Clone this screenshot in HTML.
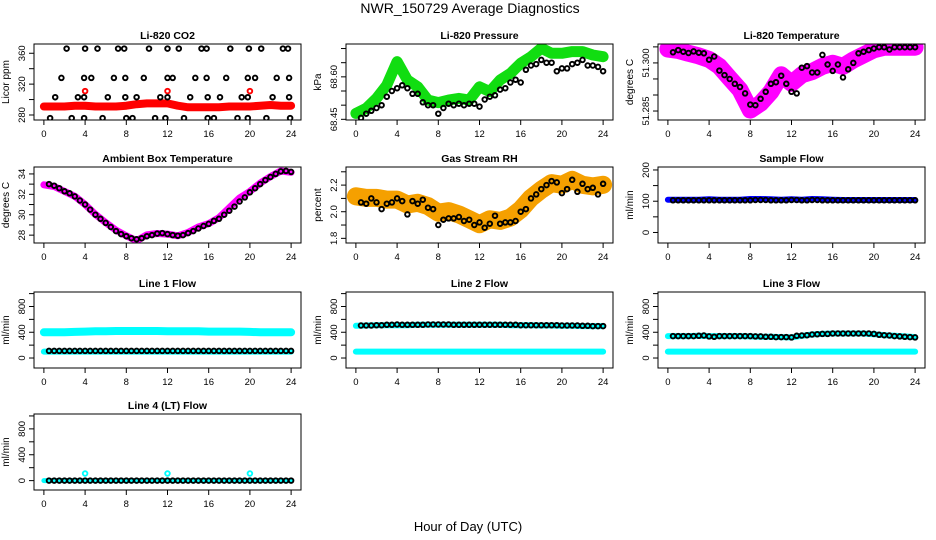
<!DOCTYPE html>
<html><head><meta charset="utf-8"><style>
body{margin:0;background:#fff;}
svg{display:block;font-family:"Liberation Sans",sans-serif;}
</style></head><body>
<svg id="fig" width="936" height="540" viewBox="0 0 936 540">
<rect width="936" height="540" fill="#fff"/>
<text x="470" y="13" text-anchor="middle" font-size="14">NWR_150729  Average Diagnostics</text>
<text x="468" y="531" text-anchor="middle" font-size="13">Hour of Day (UTC)</text>
</svg>
<script>
const bandHours = [0,1,2,3,4,5,6,7,8,9,10,11,12,13,14,15,16,17,18,19,20,21,22,23,24];
const ptHours = [0.5,1,1.5,2,2.5,3,3.5,4,4.5,5,5.5,6,6.5,7,7.5,8,8.5,9,9.5,10,10.5,11,11.5,12,12.5,13,13.5,14,14.5,15,15.5,16,16.5,17,17.5,18,18.5,19,19.5,20,20.5,21,21.5,22,22.5,23,23.5,24];
const xTicks = [0,4,8,12,16,20,24];

const co2Band = [291,291,291,292,292,291,291,291,292,294,295,295,295,292,290,290,290,290,291,291,291,292,293,292,292];
const co2RedOutX = [4,12,20];
const co2RedOutY = [311,311,311];
const co2BlackX = [2.2,4.0,5.2,7.2,7.8,10.2,12.0,13.1,15.3,15.8,18.1,19.9,21.1,23.2,23.7,
 1.7,3.9,4.6,6.8,7.9,9.7,12.0,12.5,14.7,15.8,17.7,19.8,20.5,22.6,23.8,
 1.1,3.3,3.9,6.2,7.9,9.0,11.3,12.0,14.2,15.9,17.1,19.2,19.8,22.2,23.8,
 0.6,2.7,3.9,5.7,8.0,8.6,10.8,11.8,13.6,15.9,16.5,18.8,19.8,21.6,23.9];
const co2BlackY = [366,366,366,366,366,366,366,366,366,366,366,366,366,366,366,
 328,328,328,328,328,328,328,328,328,328,328,328,328,328,328,
 303,303,303,303,303,303,303,303,303,303,303,303,303,303,303,
 276,276,276,276,276,276,276,276,276,276,276,276,276,276,276];
const presBand = [68.471,68.489,68.524,68.571,68.654,68.589,68.565,68.518,68.509,68.518,68.524,68.518,68.565,68.548,68.589,68.612,68.648,68.671,68.701,68.683,68.683,68.689,68.689,68.677,68.671];
const presBlack = [68.455,68.47,68.48,68.49,68.50,68.53,68.55,68.56,68.57,68.56,68.54,68.54,68.51,68.50,68.50,68.47,68.49,68.505,68.50,68.505,68.50,68.505,68.505,68.495,68.52,68.53,68.535,68.555,68.56,68.58,68.59,68.58,68.625,68.64,68.645,68.66,68.65,68.65,68.62,68.63,68.63,68.645,68.65,68.66,68.64,68.64,68.635,68.62];
const tempBand = [51.3043,51.3039,51.3030,51.3022,51.3011,51.2989,51.2952,51.2916,51.2853,51.2874,51.2910,51.2963,51.2936,51.2963,51.2973,51.2989,51.2999,51.2989,51.3009,51.3025,51.3041,51.3049,51.3049,51.3049,51.3049];
const tempBlack = [51.3033,51.3040,51.3035,51.3031,51.3036,51.3032,51.3030,51.3010,51.3020,51.2976,51.2962,51.2950,51.2935,51.2925,51.2905,51.2870,51.2868,51.2888,51.2910,51.2935,51.2940,51.2960,51.2935,51.2910,51.2905,51.2985,51.2990,51.2970,51.2970,51.3025,51.2995,51.2975,51.2995,51.2955,51.2980,51.3000,51.3030,51.3035,51.3040,51.3045,51.3049,51.3049,51.3042,51.3049,51.3049,51.3049,51.3049,51.3049];
const ambBand = [32.94,32.77,32.29,31.81,31.0,30.03,29.23,28.48,27.94,27.45,28.03,28.16,28.1,27.94,28.26,28.81,29.13,29.71,30.68,31.65,32.29,33.1,33.74,34.29,34.16];
const ambBlack = [33.0,32.85,32.6,32.3,32.1,31.8,31.4,31.0,30.5,30.0,29.6,29.2,28.8,28.4,28.1,27.9,27.7,27.6,27.7,27.9,28.0,28.15,28.2,28.1,28.0,27.95,28.0,28.2,28.4,28.65,28.9,29.1,29.4,29.6,30.0,30.4,30.8,31.3,31.7,32.2,32.6,33.0,33.4,33.7,34.0,34.25,34.3,34.2];
const rhBand = [2.116,2.104,2.104,2.091,2.091,2.054,2.067,2.042,1.993,2.005,1.980,1.943,1.906,1.943,1.931,1.956,2.017,2.104,2.165,2.215,2.202,2.240,2.202,2.190,2.202];
const rhBlack = [2.07,2.06,2.10,2.07,2.02,2.06,2.07,2.10,2.08,1.98,2.08,2.06,2.09,2.03,2.02,1.90,1.94,1.95,1.95,1.96,1.93,1.94,1.90,1.92,1.88,1.91,1.97,1.91,1.92,1.92,1.93,2.00,2.02,2.10,2.13,2.17,2.20,2.23,2.22,2.14,2.17,2.24,2.15,2.21,2.17,2.18,2.13,2.21];
const sampBand = [105,105,105,105,106,105,105,105,107,107,106,105,106,105,107,106,105,104,104,104,104,104,104,104,104];
const sampBlack = [103,103,103,103,103,103,103,103,103,103,103,103,103,103,103,103,104,104,104,103,103,103,103,104,104,103,103,104,104,103,103,103,103,103,103,103,103,103,103,103,103,103,103,103,103,103,103,103];
const l1BandHi = [400,400,400,405,410,415,415,420,420,420,420,420,415,415,415,415,410,410,410,410,405,400,400,400,400];
const l1BandLo = [100,100,100,100,100,100,100,100,100,100,100,100,100,100,100,100,100,100,100,100,100,100,100,100,100];
const l1Black = [110,110,110,110,110,110,110,110,110,110,110,110,110,110,110,110,110,110,110,110,110,110,110,110,110,110,110,110,110,110,110,110,110,110,110,110,110,110,110,110,110,110,110,110,110,110,110,110];
const l2BandHi = [500,505,510,510,510,510,515,515,515,515,515,515,515,515,515,510,510,510,505,505,500,500,495,495,495];
const l2BandLo = [100,100,100,100,100,100,100,100,100,100,100,100,100,100,100,100,100,100,100,100,100,100,100,100,100];
const l2Black = [505,505,505,510,510,515,515,520,515,515,515,515,515,520,520,520,520,520,515,515,515,515,515,515,515,515,515,515,515,515,515,510,510,510,510,510,510,510,510,505,505,505,505,500,500,495,495,495];
const l3BandHi = [340,340,340,345,340,340,340,340,335,330,330,325,320,345,365,375,380,380,380,380,370,355,345,335,325];
const l3BandLo = [100,100,100,100,100,100,100,100,100,100,100,100,100,100,100,100,100,100,100,100,100,100,100,100,100];
const l3Black = [340,340,340,340,340,345,350,335,330,340,340,340,340,340,340,340,335,335,330,330,325,325,325,320,345,350,355,365,370,375,375,380,380,380,380,380,380,380,380,375,360,355,350,340,335,330,325,320];
const l4Band = [0,0,0,0,0,0,0,0,0,0,0,0,0,0,0,0,0,0,0,0,0,0,0,0,0];
const l4OutX = [4,12,20];
const l4OutY = [110,110,110];
const l4Black = [0,0,0,0,0,0,0,0,0,0,0,0,0,0,0,0,0,0,0,0,0,0,0,0,0,0,0,0,0,0,0,0,0,0,0,0,0,0,0,0,0,0,0,0,0,0,0,0];

const NS = 'http://www.w3.org/2000/svg';
const svg = document.getElementById('fig');
function mk(tag, attrs, parent){ const e=document.createElementNS(NS,tag); for(const k in attrs) e.setAttribute(k,attrs[k]); (parent||svg).appendChild(e); return e; }

const colL=[34,346,658], colW=267;
const rowT=[44,167,292,414], rowH=76;

function panel(opt){
  const L=colL[opt.c], T=rowT[opt.r], R=L+colW, B=T+rowH;
  const g=mk('g',{});
  
  
  const xs=h=>L+(h+0.96)/25.92*colW;
  const ys=v=>B-(v-opt.y0)/(opt.y1-opt.y0)*rowH;
  const clipId='clip'+opt.c+opt.r;
  const cp=mk('clipPath',{id:clipId},g); mk('rect',{x:L,y:T,width:colW,height:rowH},cp);
  const plot=mk('g',{'clip-path':'url(#'+clipId+')'},g);
  (opt.bands||[]).forEach(b=>{
    const pts=b.h.map((h,i)=>xs(h).toFixed(1)+','+ys(b.v[i]).toFixed(1)).join(' ');
    const pl=mk('polyline',{points:pts,fill:'none',stroke:b.col,'stroke-width':b.w,'stroke-linejoin':'round','stroke-linecap':'round'},plot);
    
    
  });
  (opt.pts||[]).forEach(s=>{
    s.x.forEach((h,i)=>{
      const c=mk('circle',{cx:xs(h).toFixed(1),cy:ys(s.y[i]).toFixed(1),r:2.3,fill:'none',stroke:s.col,'stroke-width':1.9},plot);
      
      
    });
  });
  mk('rect',{x:L,y:T,width:colW,height:rowH,fill:'none',stroke:'#000','stroke-width':1},g);
  xTicks.forEach(t=>{
    const x=xs(t);
    mk('line',{x1:x,y1:B,x2:x,y2:B+5,stroke:'#000'},g);
    const tx=mk('text',{x:x,y:B+17,'text-anchor':'middle','font-size':9.5},g); tx.textContent=t;
    
    
  });
  opt.yt.forEach(t=>{
    const y=ys(t);
    mk('line',{x1:L,y1:y,x2:L-5,y2:y,stroke:'#000'},g);
  });
  opt.yl.forEach((t,i)=>{
    const y=ys(t);
    const tx=mk('text',{x:L-9,y:y,'text-anchor':'middle','font-size':9.5,transform:'rotate(-90 '+(L-9)+' '+y+')'},g);
    tx.textContent=opt.ylt[i];
    
    
  });
  const yx=L-25, ymid=(T+B)/2;
  const yl=mk('text',{x:yx,y:ymid,'text-anchor':'middle','font-size':10,transform:'rotate(-90 '+yx+' '+ymid+')'},g);
  yl.textContent=opt.ylab;
  
  
  const tt=mk('text',{x:(L+R)/2,y:T-5,'text-anchor':'middle','font-size':10.5,'font-weight':'bold'},g);
  tt.textContent=opt.title;
  
  
}

panel({c:0,r:0,name:'co2-panel',title:'Li-820 CO2',ylab:'Licor ppm',y0:273.5,y1:372,yt:[280,300,320,340,360],yl:[280,320,360],ylt:['280','320','360'],
 bands:[{name:'co2-red-band',h:bandHours,v:co2Band,col:'#ff0000',w:8}],
 pts:[{name:'co2-red-point',x:co2RedOutX,y:co2RedOutY,col:'#ff0000'},{name:'co2-black-point',x:co2BlackX,y:co2BlackY,col:'#000'}]});
panel({c:1,r:0,name:'pressure-panel',title:'Li-820 Pressure',ylab:'kPa',y0:68.4476,y1:68.716,yt:[68.45,68.5,68.55,68.6,68.65,68.7],yl:[68.45,68.6],ylt:['68.45','68.60'],
 bands:[{name:'pressure-green-band',h:bandHours,v:presBand,col:'#11dd11',w:11}],
 pts:[{name:'pressure-black-point',x:ptHours,y:presBlack,col:'#000'}]});
panel({c:2,r:0,name:'temperature-panel',title:'Li-820 Temperature',ylab:'degrees C',y0:51.2822,y1:51.3059,yt:[51.285,51.29,51.295,51.3,51.305],yl:[51.285,51.3],ylt:['51.285','51.300'],
 bands:[{name:'temperature-magenta-band',h:bandHours,v:tempBand,col:'#ff00ff',w:17}],
 pts:[{name:'temperature-black-point',x:ptHours,y:tempBlack,col:'#000'}]});
panel({c:0,r:1,name:'ambient-panel',title:'Ambient Box Temperature',ylab:'degrees C',y0:27.23,y1:34.68,yt:[28,29,30,31,32,33,34],yl:[28,30,32,34],ylt:['28','30','32','34'],
 bands:[{name:'ambient-magenta-band',h:bandHours,v:ambBand,col:'#ff00ff',w:7}],
 pts:[{name:'ambient-black-point',x:ptHours,y:ambBlack,col:'#000'}]});
panel({c:1,r:1,name:'rh-panel',title:'Gas Stream RH',ylab:'percent',y0:1.765,y1:2.336,yt:[1.8,1.9,2.0,2.1,2.2,2.3],yl:[1.8,2.0,2.2],ylt:['1.8','2.0','2.2'],
 bands:[{name:'rh-orange-band',h:bandHours,v:rhBand,col:'#f5a000',w:18}],
 pts:[{name:'rh-black-point',x:ptHours,y:rhBlack,col:'#000'}]});
panel({c:2,r:1,name:'sample-flow-panel',title:'Sample Flow',ylab:'ml/min',y0:-33.7,y1:209.5,yt:[0,50,100,150,200],yl:[0,100,200],ylt:['0','100','200'],
 bands:[{name:'sample-blue-band',h:bandHours,v:sampBand,col:'#0000ff',w:6}],
 pts:[{name:'sample-black-point',x:ptHours,y:sampBlack,col:'#000'}]});
const flowT=[0,200,400,600,800,1000], flowL=[0,400,800], flowLt=['0','400','800'];
panel({c:0,r:2,name:'line1-flow-panel',title:'Line 1 Flow',ylab:'ml/min',y0:-155,y1:1025,yt:flowT,yl:flowL,ylt:flowLt,
 bands:[{name:'line1-cyan-band-high',h:bandHours,v:l1BandHi,col:'#00ffff',w:8},{name:'line1-cyan-band-low',h:bandHours,v:l1BandLo,col:'#00ffff',w:6}],
 pts:[{name:'line1-black-point',x:ptHours,y:l1Black,col:'#000'}]});
panel({c:1,r:2,name:'line2-flow-panel',title:'Line 2 Flow',ylab:'ml/min',y0:-155,y1:1025,yt:flowT,yl:flowL,ylt:flowLt,
 bands:[{name:'line2-cyan-band-high',h:bandHours,v:l2BandHi,col:'#00ffff',w:6},{name:'line2-cyan-band-low',h:bandHours,v:l2BandLo,col:'#00ffff',w:6}],
 pts:[{name:'line2-black-point',x:ptHours,y:l2Black,col:'#000'}]});
panel({c:2,r:2,name:'line3-flow-panel',title:'Line 3 Flow',ylab:'ml/min',y0:-155,y1:1025,yt:flowT,yl:flowL,ylt:flowLt,
 bands:[{name:'line3-cyan-band-high',h:bandHours,v:l3BandHi,col:'#00ffff',w:6},{name:'line3-cyan-band-low',h:bandHours,v:l3BandLo,col:'#00ffff',w:6}],
 pts:[{name:'line3-black-point',x:ptHours,y:l3Black,col:'#000'}]});
panel({c:0,r:3,name:'line4-flow-panel',title:'Line 4 (LT) Flow',ylab:'ml/min',y0:-145,y1:1030,yt:flowT,yl:flowL,ylt:flowLt,
 bands:[{name:'line4-cyan-band',h:bandHours,v:l4Band,col:'#00ffff',w:5}],
 pts:[{name:'line4-cyan-point',x:l4OutX,y:l4OutY,col:'#00ffff'},{name:'line4-black-point',x:ptHours,y:l4Black,col:'#000'}]});
</script>
</body></html>
